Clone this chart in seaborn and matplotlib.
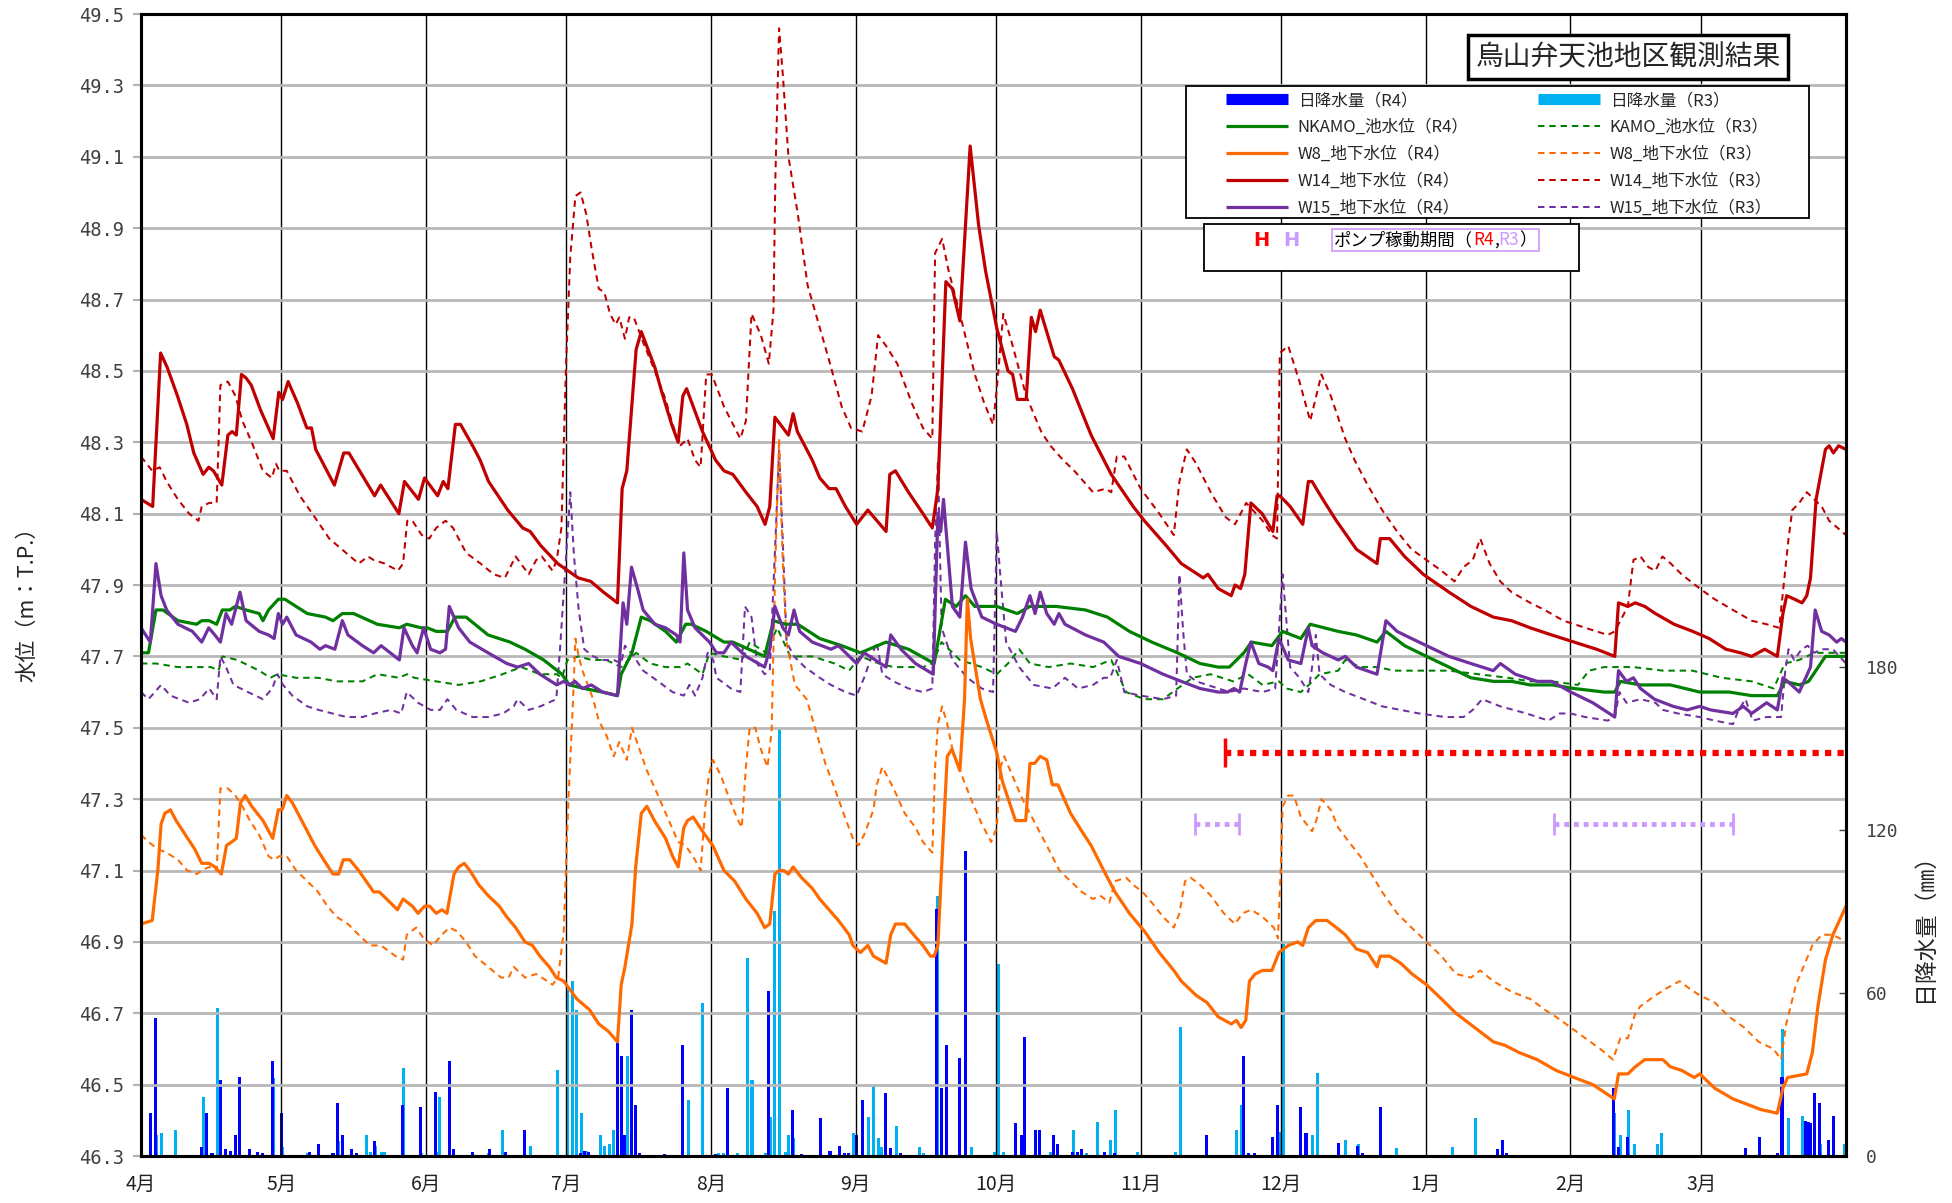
import numpy as np
import pandas as pd
import matplotlib
matplotlib.use("Agg")
import matplotlib.pyplot as plt
import seaborn as sns
from matplotlib.lines import Line2D
from matplotlib.patches import Rectangle
from matplotlib.offsetbox import TextArea, HPacker, AnchoredOffsetbox

# ---------------- data (day index from 1 April, value) ----------------
month_days = [0, 30, 61, 91, 122, 153, 183, 214, 244, 275, 306, 334]
month_labels = ["4月", "5月", "6月", "7月", "8月", "9月", "10月", "11月", "12月", "1月", "2月", "3月"]
left_ticks = [46.3, 46.5, 46.7, 46.9, 47.1, 47.3, 47.5, 47.7, 47.9, 48.1, 48.3, 48.5, 48.7, 48.9, 49.1, 49.3, 49.5]
right_ticks = [0, 60, 120, 180]

w14_r4 = [(0,48.14),(2.5,48.12),(4.2,48.55),(5.6,48.51),(7.8,48.43),(9.8,48.35),(11.3,48.27),(13.3,48.21),(14.5,48.23),(15.5,48.22),(17.3,48.18),(18.6,48.32),(19.5,48.33),(20.4,48.32),(21.5,48.49),(22.5,48.48),(23.6,48.46),(25.6,48.39),(28.3,48.31),(29.5,48.44),(30.3,48.42),(31.5,48.47),(33.5,48.41),(35.5,48.34),(36.5,48.34),(37.4,48.28),(39,48.24),(41.4,48.18),(43.4,48.27),(44.5,48.27),(47.7,48.20),(50,48.15),(51.3,48.18),(55.2,48.10),(56.4,48.19),(59.4,48.14),(60.7,48.20),(63.5,48.15),(64.7,48.19),(65.7,48.17),(67.3,48.35),(68.4,48.35),(71,48.29),(72.6,48.25),(74.4,48.19),(78.5,48.11),(81.7,48.06),(83.3,48.05),(85.6,48.01),(89.2,47.96),(93.6,47.92),(96.3,47.91),(99,47.88),(102,47.85),(103,48.17),(104,48.22),(106,48.56),(107.1,48.61),(110,48.51),(111.5,48.44),(113.6,48.35),(115,48.30),(116,48.43),(116.8,48.45),(120.2,48.33),(123,48.25),(124.8,48.22),(126.7,48.21),(129.5,48.16),(131.9,48.12),(133.6,48.07),(134.6,48.12),(135.7,48.37),(138.6,48.32),(139.6,48.38),(140.5,48.33),(143.7,48.25),(145.3,48.20),(147.3,48.17),(148.8,48.17),(150.8,48.12),(153.2,48.07),(155.6,48.11),(159.5,48.05),(160.3,48.21),(161.5,48.22),(164.3,48.16),(167.4,48.10),(169.4,48.06),(170.6,48.17),(172.3,48.75),(173.7,48.73),(175.3,48.64),(177.5,49.13),(179.3,48.91),(180.8,48.78),(183.2,48.62),(185.6,48.50),(186.6,48.49),(187.6,48.42),(189.5,48.42),(190.6,48.65),(191.5,48.61),(192.5,48.67),(195.5,48.54),(196.5,48.53),(199.4,48.45),(203.4,48.32),(207.7,48.21),(212.4,48.12),(214.8,48.08),(219.5,48.01),(222.7,47.96),(227.4,47.92),(228.4,47.93),(230.6,47.89),(233.4,47.87),(234.2,47.90),(235.4,47.89),(236.3,47.93),(237.6,48.13),(240,48.10),(242.3,48.05),(243.2,48.15),(243.8,48.15),(246,48.12),(248.7,48.07),(249.9,48.19),(250.7,48.19),(253,48.14),(255.9,48.08),(260.2,48.00),(264.6,47.96),(265.3,48.03),(267.3,48.03),(270.5,47.98),(274.5,47.93),(280,47.88),(284.7,47.84),(289.5,47.81),(293.4,47.80),(297.4,47.78),(302,47.76),(306.8,47.74),(311.6,47.72),(315.5,47.70),(316.3,47.85),(318.3,47.84),(319.9,47.85),(321.9,47.84),(324.2,47.82),(328.2,47.79),(332.2,47.77),(335.7,47.75),(339.3,47.72),(342.4,47.71),(344.8,47.70),(347.6,47.72),(350.3,47.70),(351.5,47.82),(352.3,47.87),(354,47.86),(355.6,47.85),(356.6,47.87),(357.4,47.92),(358.6,48.14),(360.6,48.28),(361.4,48.29),(362.3,48.27),(363.4,48.29),(365,48.28)]

w14_r3 = [(0,48.26),(1.2,48.24),(2.4,48.22),(4,48.23),(5.5,48.19),(7.9,48.14),(10.3,48.10),(12.3,48.08),(13,48.12),(14.6,48.13),(16.2,48.13),(17,48.46),(18.6,48.47),(20.2,48.43),(21.7,48.36),(23.7,48.30),(26.1,48.22),(28,48.20),(28.9,48.24),(29.6,48.22),(31.2,48.22),(34,48.15),(37.2,48.09),(40.3,48.03),(43.9,47.99),(46.6,47.96),(48.6,47.98),(49.8,47.97),(52.2,47.96),(55,47.94),(56.1,47.96),(57,48.08),(58.1,48.08),(60.1,48.04),(61.7,48.03),(63.2,48.06),(65.2,48.08),(66.8,48.06),(69.6,47.99),(72.7,47.96),(75.5,47.93),(77.9,47.92),(80.2,47.98),(83,47.93),(84.6,47.97),(85.8,47.98),(88.1,47.94),(89,47.97),(90,48.06),(91,48.52),(91.9,48.82),(93,48.99),(94.1,49.0),(95.3,48.94),(96.5,48.84),(98,48.73),(99.2,48.72),(100.4,48.66),(101.6,48.63),(102.4,48.65),(103.6,48.59),(104.5,48.65),(105.5,48.65),(107.5,48.58),(110,48.50),(112.3,48.42),(113.8,48.35),(115.4,48.29),(117,48.31),(118.6,48.25),(119.8,48.23),(121,48.49),(122.2,48.49),(124.8,48.40),(128.3,48.31),(129.5,48.36),(130.7,48.66),(132.7,48.60),(134.4,48.52),(135.4,48.67),(135.8,49.04),(136.6,49.46),(137.4,49.33),(138.6,49.10),(140.6,48.94),(142.7,48.74),(147.3,48.53),(150,48.40),(152,48.34),(154.4,48.33),(156.4,48.43),(157.8,48.60),(159.5,48.57),(161.9,48.52),(165,48.41),(167.4,48.34),(169.4,48.31),(170,48.83),(171.5,48.87),(172.9,48.78),(175.3,48.66),(178.5,48.49),(180.5,48.41),(182.4,48.35),(183.2,48.45),(184.6,48.66),(186.4,48.58),(189.5,48.43),(192.7,48.33),(194.7,48.29),(197.4,48.25),(199.8,48.22),(203.8,48.16),(206.5,48.17),(207.7,48.16),(208.9,48.26),(210.5,48.26),(214,48.17),(218,48.10),(221.1,48.04),(222.3,48.19),(223.9,48.28),(225.9,48.24),(229,48.16),(232.2,48.09),(234.2,48.07),(236.6,48.13),(240.1,48.08),(242.1,48.04),(243.2,48.03),(243.8,48.55),(245.6,48.57),(248,48.47),(250.3,48.36),(252.7,48.49),(254.7,48.43),(257.8,48.31),(259.8,48.25),(262.6,48.18),(265.7,48.11),(268.9,48.05),(272,48.00),(275.2,47.97),(278.4,47.94),(281.2,47.91),(283.1,47.95),(285.1,47.97),(286.7,48.03),(288.7,47.96),(291,47.91),(293.4,47.88),(297.4,47.85),(300.5,47.83),(304.5,47.80),(309.2,47.78),(314,47.76),(315.5,47.77),(318.3,47.84),(319.5,47.97),(321,47.98),(322.7,47.95),(324.2,47.94),(325.7,47.98),(327.5,47.96),(329.8,47.93),(333.7,47.89),(336.9,47.86),(340.8,47.83),(344.8,47.80),(348,47.79),(350.7,47.78),(351.5,47.88),(352.7,48.03),(353.5,48.11),(355,48.13),(356.6,48.16),(358.2,48.14),(359.8,48.12),(361.4,48.08),(365,48.04)]

nkamo_r4 = [(0,47.71),(1.6,47.71),(3.2,47.83),(4.7,47.83),(7.9,47.80),(11.9,47.79),(13,47.80),(14.6,47.80),(16.2,47.79),(17.4,47.83),(19,47.83),(20.2,47.84),(22.5,47.83),(25.3,47.82),(26.1,47.80),(27.3,47.83),(29.4,47.86),(30.8,47.86),(33.2,47.84),(35.6,47.82),(39.5,47.81),(41.1,47.80),(43.1,47.82),(45.5,47.82),(50.6,47.79),(55.3,47.78),(56.9,47.79),(60,47.78),(61.3,47.78),(63.2,47.77),(65.6,47.77),(67.2,47.81),(69.6,47.81),(74.3,47.76),(79,47.74),(82.2,47.72),(86.2,47.69),(90.1,47.65),(91.7,47.62),(94.9,47.61),(98.8,47.60),(102,47.59),(102.8,47.65),(105.1,47.71),(107.1,47.81),(109,47.80),(112.3,47.77),(114.6,47.74),(116.6,47.79),(117.8,47.79),(121,47.77),(124.8,47.74),(126.7,47.74),(133.5,47.70),(135.4,47.80),(138,47.79),(140.6,47.79),(145.3,47.75),(150,47.73),(154,47.71),(159.5,47.74),(164.3,47.72),(169.8,47.68),(172.2,47.86),(174.5,47.84),(176.5,47.87),(178.5,47.84),(183.2,47.84),(187.6,47.82),(190.3,47.84),(195.9,47.84),(202.2,47.83),(206.9,47.81),(211.6,47.77),(216.4,47.74),(221.9,47.71),(226.7,47.68),(230.6,47.67),(233,47.67),(236.1,47.71),(237.7,47.74),(242.1,47.73),(244.4,47.77),(248.3,47.75),(250.3,47.79),(256.3,47.77),(260.2,47.76),(264.6,47.74),(266.5,47.77),(270.5,47.73),(275.2,47.70),(280,47.67),(284.7,47.64),(289.5,47.63),(293.4,47.63),(297.4,47.62),(302.1,47.62),(306.8,47.61),(313.2,47.60),(315.5,47.60),(316.7,47.63),(321,47.62),(327.4,47.62),(333.7,47.60),(340,47.60),(344.8,47.59),(350.3,47.59),(351.9,47.63),(355,47.62),(357,47.63),(360.6,47.70),(363,47.70),(365,47.70)]

kamo_r3 = [(0,47.68),(3.2,47.68),(7.9,47.67),(11.9,47.67),(15,47.67),(16.6,47.66),(17.4,47.70),(20.6,47.69),(25.3,47.66),(27.7,47.64),(29.2,47.65),(33.2,47.64),(37.9,47.64),(41.9,47.63),(47.4,47.63),(50.6,47.65),(55.3,47.64),(56.9,47.65),(58.5,47.64),(63.2,47.63),(68,47.62),(72.7,47.63),(77.4,47.65),(81.4,47.67),(85.4,47.65),(89,47.65),(90.1,47.64),(91.3,47.69),(93.7,47.70),(96.4,47.69),(99.6,47.69),(102.8,47.67),(106,47.71),(109,47.68),(112.3,47.67),(115.4,47.67),(117,47.68),(120.2,47.65),(121.7,47.71),(124.8,47.70),(128.7,47.69),(130.3,47.74),(133.8,47.71),(136.2,47.78),(139,47.70),(143.7,47.70),(148.5,47.68),(151.6,47.66),(154,47.70),(158,47.68),(161.1,47.67),(167.4,47.67),(169.4,47.68),(171.4,47.74),(175.3,47.69),(180,47.67),(183.2,47.65),(185.6,47.68),(188,47.72),(190.3,47.68),(194.3,47.67),(199,47.68),(203.8,47.67),(207.7,47.69),(210.9,47.60),(214.8,47.58),(218.8,47.58),(221.9,47.61),(225.1,47.64),(229,47.65),(233.8,47.63),(237,47.65),(240.1,47.62),(243.6,47.63),(245.2,47.61),(248.3,47.60),(250,47.62),(252.3,47.65),(256.3,47.66),(257.8,47.69),(261,47.67),(264.9,47.67),(268.1,47.66),(273.6,47.66),(280,47.66),(286.3,47.65),(292.6,47.64),(297.4,47.63),(302,47.63),(307.6,47.62),(310,47.66),(313.2,47.67),(319.5,47.67),(325.8,47.66),(332.1,47.66),(338.4,47.64),(344.8,47.63),(349.5,47.61),(351.9,47.68),(355,47.69),(358.2,47.71),(360.6,47.71),(365,47.71)]

w15_r4 = [(0,47.78),(2,47.74),(3.2,47.96),(4.3,47.87),(5.5,47.83),(7.9,47.79),(11,47.77),(13,47.74),(14.5,47.78),(15.8,47.76),(17,47.74),(18.2,47.82),(19.4,47.79),(21.2,47.88),(22.5,47.80),(25.3,47.77),(27.3,47.76),(28.5,47.75),(29.4,47.82),(30.3,47.79),(31.2,47.81),(33.2,47.76),(36.4,47.74),(38.3,47.72),(39.5,47.73),(41.5,47.72),(43.1,47.80),(44.3,47.76),(47.4,47.73),(49.8,47.71),(51.4,47.73),(55.3,47.69),(56.3,47.78),(58.1,47.73),(59.1,47.71),(60.5,47.78),(62,47.72),(64,47.71),(65.2,47.72),(66,47.84),(68,47.78),(70.4,47.74),(74.3,47.71),(78.3,47.68),(80.6,47.67),(83,47.68),(85.4,47.65),(89,47.62),(90.5,47.63),(91.7,47.62),(92.9,47.63),(94.5,47.61),(96.4,47.62),(98.8,47.60),(102,47.59),(103.2,47.85),(104,47.79),(105,47.95),(106.3,47.89),(107.5,47.83),(110,47.79),(112.3,47.78),(114.6,47.76),(115.4,47.74),(116.2,47.99),(117,47.83),(118.6,47.78),(121.7,47.74),(123.2,47.71),(124.8,47.71),(126.3,47.74),(129.5,47.70),(133.5,47.67),(134.6,47.72),(135.7,47.84),(137.4,47.78),(138.6,47.76),(139.8,47.83),(141,47.77),(143.7,47.74),(147.7,47.72),(149.3,47.73),(153.2,47.68),(154.8,47.71),(157.2,47.69),(159.5,47.67),(160.5,47.76),(162.7,47.72),(165.8,47.68),(169.6,47.65),(170.6,48.10),(171.2,48.05),(171.8,48.14),(173.7,47.84),(175.3,47.81),(176.5,48.02),(177.7,47.89),(180,47.81),(183.2,47.79),(187.2,47.77),(188.7,47.81),(190.3,47.87),(191.4,47.82),(192.5,47.88),(193.9,47.82),(195.5,47.79),(196.5,47.82),(197.8,47.79),(202.2,47.76),(206.1,47.74),(209.3,47.70),(214,47.68),(218.8,47.65),(222.7,47.63),(226.7,47.61),(230.6,47.60),(232.6,47.60),(234,47.61),(235.2,47.60),(236.5,47.68),(237.6,47.74),(239.3,47.68),(241.3,47.67),(242.3,47.66),(243.6,47.75),(245.6,47.69),(248.3,47.68),(249.9,47.78),(250.7,47.73),(253,47.71),(256.3,47.69),(257.8,47.70),(260.2,47.67),(264.6,47.65),(266.5,47.80),(268.9,47.77),(272,47.75),(275.2,47.73),(280,47.70),(284.7,47.68),(289.5,47.66),(291,47.68),(294.2,47.65),(298.9,47.63),(302,47.63),(306.1,47.60),(310.8,47.57),(315.5,47.53),(316.3,47.66),(318,47.63),(319.5,47.64),(321,47.61),(324,47.58),(328,47.56),(331,47.55),(333.7,47.56),(336,47.55),(340.8,47.54),(343,47.56),(344.8,47.54),(348,47.57),(350.3,47.55),(351.5,47.64),(352.5,47.63),(355,47.60),(357.4,47.67),(358.4,47.83),(359.8,47.77),(361.4,47.76),(363,47.74),(364,47.75),(365,47.74)]

w15_r3 = [(0,47.60),(1.6,47.58),(4.3,47.62),(6.3,47.59),(10.3,47.57),(12.6,47.58),(14.6,47.61),(16.2,47.58),(17,47.70),(18.2,47.67),(19.8,47.62),(22.9,47.60),(26.1,47.58),(28.1,47.61),(29.2,47.65),(30.4,47.62),(32.4,47.59),(35.6,47.56),(38,47.55),(41,47.54),(44,47.53),(47.4,47.53),(50,47.54),(53.5,47.55),(55.7,47.54),(56.9,47.60),(59.3,47.57),(62,47.55),(64,47.55),(65.6,47.58),(67.5,47.55),(71,47.53),(74.3,47.53),(77.5,47.54),(79.8,47.56),(80.6,47.58),(83,47.55),(85.5,47.56),(88.9,47.58),(89.7,47.72),(90.9,47.96),(91.9,48.16),(92.7,47.98),(93.7,47.83),(94.9,47.72),(96.8,47.70),(98.8,47.69),(101.2,47.69),(102.8,47.68),(103.6,47.73),(105.5,47.70),(107.5,47.66),(110.7,47.63),(113.8,47.60),(116.2,47.59),(117.4,47.62),(118.6,47.59),(120.2,47.64),(121.3,47.71),(122.5,47.69),(123.2,47.64),(126.3,47.61),(128.3,47.60),(129.3,47.84),(130.7,47.81),(131.9,47.68),(133.5,47.65),(134.6,47.66),(135.8,48.02),(136.6,48.28),(137.4,48.02),(138.2,47.74),(139.8,47.70),(142.1,47.67),(145.3,47.64),(147.7,47.62),(150.8,47.60),(153.2,47.59),(154.8,47.64),(157.5,47.74),(158.7,47.65),(161.1,47.63),(164.3,47.61),(167.4,47.60),(169.4,47.61),(170,48.02),(170.6,48.25),(171.4,47.78),(173.7,47.69),(176.9,47.64),(180,47.61),(182.4,47.60),(183.2,48.05),(184,47.92),(185.2,47.74),(188,47.67),(191.1,47.62),(195.1,47.61),(197.8,47.64),(200.6,47.61),(203.8,47.62),(206.1,47.64),(207.5,47.64),(208.9,47.69),(210.5,47.60),(214,47.59),(218.8,47.58),(221.6,47.59),(222.3,47.93),(223.1,47.77),(223.9,47.65),(225.9,47.63),(230.6,47.61),(233,47.60),(236.1,47.61),(240.1,47.60),(242.8,47.61),(244.4,47.93),(245.2,47.80),(246,47.67),(248,47.64),(249.9,47.60),(250.7,47.67),(251.5,47.76),(252.3,47.65),(254.7,47.62),(257.8,47.60),(261.8,47.58),(265.7,47.56),(269.7,47.55),(273.6,47.54),(279.2,47.53),(283.1,47.53),(285.1,47.55),(287.1,47.58),(291,47.56),(296.6,47.54),(301.3,47.52),(303.7,47.54),(306,47.54),(309.2,47.53),(314,47.52),(315.5,47.53),(316.5,47.60),(318,47.57),(321,47.58),(324.2,47.57),(325.8,47.55),(329,47.54),(333.7,47.53),(336.9,47.52),(340.8,47.51),(342,47.55),(343.5,47.58),(345,47.52),(348,47.53),(351.1,47.53),(352,47.66),(352.7,47.72),(353.9,47.69),(355.5,47.72),(356.8,47.73),(358.2,47.71),(359.8,47.72),(362.2,47.72),(365,47.68)]

w8_r4 = [(0,46.95),(2.4,46.96),(3.6,47.10),(4.3,47.23),(5.1,47.26),(6.3,47.27),(7.5,47.24),(9.5,47.20),(11.5,47.16),(13,47.12),(14.6,47.12),(15.8,47.11),(17.2,47.09),(18.3,47.17),(19.4,47.18),(20.4,47.19),(21.3,47.29),(22.3,47.31),(23.7,47.28),(26.1,47.24),(28.2,47.19),(29.4,47.27),(30.2,47.27),(31.2,47.31),(32.4,47.29),(34,47.25),(35.6,47.21),(37.2,47.17),(39.1,47.13),(41.1,47.09),(42.3,47.09),(43.3,47.13),(44.7,47.13),(46.6,47.10),(48.2,47.07),(49.8,47.04),(51,47.04),(52.6,47.02),(54.9,46.99),(56.1,47.02),(58.1,47.00),(59.3,46.98),(60.7,47.00),(61.8,47.00),(63.2,46.98),(64.4,46.99),(65.5,46.98),(67,47.09),(68,47.11),(69.2,47.12),(70.4,47.10),(72.3,47.06),(74.3,47.03),(76.7,47.00),(78.3,46.97),(80.2,46.94),(82.2,46.90),(83.8,46.89),(85.4,46.86),(87.4,46.83),(88.9,46.80),(90.5,46.79),(93.3,46.74),(96,46.71),(98,46.67),(100,46.65),(102,46.62),(102.8,46.78),(103.6,46.83),(105.1,46.95),(105.9,47.11),(107.1,47.26),(108.3,47.28),(109.9,47.24),(112.3,47.19),(113.8,47.14),(115,47.11),(116.2,47.22),(117,47.24),(118.2,47.25),(120.2,47.21),(122.4,47.17),(124.8,47.10),(127.1,47.07),(129.5,47.02),(131.9,46.98),(133.5,46.94),(134.6,46.95),(135.7,47.09),(136.6,47.10),(137.6,47.10),(138.6,47.09),(139.6,47.11),(141.4,47.08),(143.7,47.05),(145.3,47.02),(147.3,46.99),(149.3,46.96),(151.6,46.92),(152.4,46.89),(154,46.87),(155.6,46.89),(156.8,46.86),(159.5,46.84),(160.5,46.92),(161.5,46.95),(163.5,46.95),(165.4,46.92),(167.4,46.89),(169,46.86),(169.8,46.86),(170.6,46.89),(171.4,47.11),(172.6,47.42),(173.6,47.44),(175.3,47.38),(176.3,47.58),(176.9,47.86),(177.6,47.75),(179.7,47.58),(180.8,47.53),(183.2,47.43),(184.4,47.35),(187.2,47.24),(189.4,47.24),(190.3,47.40),(191.3,47.40),(192.5,47.42),(193.9,47.41),(195.1,47.34),(196.3,47.34),(199,47.26),(201.4,47.21),(203.4,47.17),(206.1,47.10),(208.5,47.04),(211.6,46.98),(214.8,46.93),(218,46.87),(221.1,46.82),(222.7,46.79),(225.9,46.75),(228.2,46.73),(230.6,46.69),(233.4,46.67),(234.5,46.68),(235.5,46.66),(236.5,46.68),(237.3,46.79),(238.5,46.81),(240.1,46.82),(242.1,46.82),(243.6,46.87),(245.6,46.89),(247.6,46.90),(248.7,46.89),(249.9,46.94),(251.5,46.96),(253.9,46.96),(255.9,46.94),(257.8,46.92),(260.2,46.88),(262.6,46.87),(264.6,46.83),(265.3,46.86),(267.3,46.86),(269.7,46.84),(272.1,46.81),(275.2,46.78),(278.4,46.74),(281.5,46.70),(285.5,46.66),(289.5,46.62),(292,46.61),(295,46.59),(298.9,46.57),(302.9,46.54),(306.8,46.52),(310.8,46.50),(315.4,46.46),(316.3,46.53),(318.3,46.53),(319.9,46.55),(321.9,46.57),(325.8,46.57),(327.4,46.55),(329.8,46.54),(332.5,46.52),(333.7,46.53),(336.9,46.49),(340.8,46.46),(344.8,46.44),(346.8,46.43),(350.3,46.42),(351.5,46.49),(352.5,46.52),(356.6,46.53),(357.8,46.59),(359,46.72),(360.6,46.85),(362.2,46.92),(365,47.00)]

w8_r3 = [(0,47.20),(1.6,47.18),(3.6,47.16),(5.5,47.15),(7.9,47.13),(9.9,47.10),(11.9,47.09),(13,47.10),(14.6,47.11),(16.2,47.10),(17,47.33),(18.6,47.33),(20.2,47.31),(21.7,47.28),(23.3,47.24),(25.3,47.20),(27.3,47.14),(28.5,47.13),(29.6,47.14),(31.2,47.14),(33.2,47.10),(35.6,47.07),(37.9,47.04),(39.9,47.00),(41.9,46.97),(44.3,46.95),(46.6,46.92),(49,46.89),(51.4,46.89),(54.5,46.86),(56.1,46.85),(56.9,46.92),(58.9,46.94),(60.5,46.91),(62.5,46.89),(64.4,46.92),(66,46.94),(67.6,46.93),(69.6,46.90),(71.5,46.86),(74.3,46.83),(77.1,46.80),(78.7,46.80),(79.8,46.83),(82.2,46.80),(84.6,46.81),(85.8,46.80),(88.1,46.78),(89.3,46.80),(90.5,46.93),(91.5,47.30),(92.5,47.58),(93,47.75),(93.7,47.70),(94.5,47.66),(96.8,47.58),(98,47.52),(99.6,47.48),(101.2,47.42),(102.4,47.46),(104,47.41),(105.1,47.50),(106.7,47.44),(108.3,47.38),(110.7,47.31),(113,47.24),(115,47.18),(116.6,47.17),(118.6,47.13),(119.8,47.10),(120.8,47.28),(121.6,47.37),(122.4,47.41),(124,47.37),(126,47.30),(127.5,47.25),(128.6,47.22),(129.5,47.39),(130.3,47.50),(131.5,47.50),(132.7,47.44),(134.1,47.39),(135,47.49),(135.8,47.96),(136.6,48.31),(137.4,47.96),(138.2,47.74),(140,47.62),(142.5,47.58),(144.5,47.49),(146.5,47.40),(148.5,47.33),(150.4,47.26),(152.4,47.19),(153.6,47.17),(154.8,47.20),(156.8,47.27),(157.5,47.34),(158.7,47.39),(161.1,47.33),(163.5,47.26),(165.8,47.22),(167.4,47.18),(169.4,47.15),(170,47.39),(170.6,47.51),(171.5,47.56),(172.6,47.51),(173.7,47.44),(175.3,47.38),(177.7,47.30),(180,47.23),(182,47.18),(183.2,47.22),(184,47.39),(184.8,47.42),(186.4,47.37),(188.7,47.30),(191.1,47.24),(193.9,47.17),(196.6,47.10),(199,47.07),(201.4,47.04),(203.8,47.02),(205.3,47.03),(207.3,47.01),(208.5,47.07),(210.9,47.08),(212.4,47.06),(214.4,47.04),(216.4,47.01),(218.8,46.97),(221.1,46.94),(222.3,46.98),(223.5,47.07),(224.7,47.08),(226.7,47.06),(229,47.03),(231.8,46.98),(234.2,46.95),(235.8,46.98),(237.7,46.99),(240.1,46.97),(242.5,46.94),(243.4,46.91),(244,47.11),(244.4,47.28),(245.6,47.31),(246.8,47.31),(248.3,47.25),(250.7,47.21),(251.6,47.24),(252.7,47.30),(254.7,47.27),(256.3,47.22),(258.6,47.18),(261,47.14),(263.4,47.09),(265.7,47.04),(268.9,46.98),(272,46.94),(275.2,46.90),(278.4,46.86),(281.5,46.81),(284.7,46.80),(286.7,46.82),(289.5,46.79),(293.4,46.76),(297.4,46.74),(300.5,46.71),(302.9,46.69),(306.1,46.66),(309.2,46.63),(312.4,46.60),(315.1,46.57),(316.7,46.63),(318.3,46.63),(319.9,46.70),(321,46.72),(324.2,46.75),(326.6,46.77),(329.4,46.79),(331.4,46.77),(333.7,46.75),(336.9,46.73),(340,46.69),(343.2,46.66),(346.3,46.62),(349.5,46.60),(351.1,46.57),(352.2,46.67),(354.3,46.78),(356.2,46.84),(357.8,46.89),(359.8,46.92),(362.2,46.92),(365,46.90)]

rain_r4 = [(0.2,14.7),(2.1,15.7),(3.2,50.9),(13,3.4),(14.1,15.7),(15.2,1),(17,28),(18,2.5),(19.1,2),(20.2,7.7),(21,29),(23.2,2.5),(25,1.6),(26.1,1),(28.1,35),(30,15.7),(36,1.6),(38.1,4.4),(41.1,1),(42.1,19.6),(43.1,7.7),(45.1,2.5),(46.1,1),(50,5.6),(55.9,18.8),(59.8,17.9),(63,23.7),(66,35),(67,2.5),(70.9,1.6),(74.7,2.5),(78,1.6),(82,9.6),(94,1.2),(94.9,2),(95.8,1.6),(102,41.5),(102.8,36.8),(103.6,7.7),(105,53.7),(105.9,18.8),(106.7,1),(112,0.8),(116,40.9),(123,0.8),(125.6,24.9),(134.4,60.7),(139.4,17),(141.5,0.8),(145.5,13.9),(147.5,2),(149.5,3.7),(150.5,1),(151.5,1),(153.2,7.7),(154.4,20.6),(159.4,23),(160.5,2.8),(162.5,1),(170.2,90.8),(171.4,24.9),(172.4,40.9),(175.3,36),(176.5,112),(187.3,12),(188.4,7.7),(189.2,43.7),(191.4,9.6),(192.4,9.6),(195.3,7.7),(196.3,4.4),(199.4,1.6),(200.4,1.6),(201.4,2.5),(206.3,1.6),(208.4,1),(228.1,7.7),(236,36.8),(237.1,1),(238.3,1),(242.3,6.9),(243.4,18.8),(248.3,17.9),(249.4,8.6),(256.3,4.7),(260.4,3.7),(261.4,1),(265.4,17.9),(290.4,2.5),(291.4,5.9),(292.4,1),(315.3,24.9),(316.3,3.4),(318.3,6.9),(343.4,2.8),(346.4,6.9),(350.3,1),(351.3,29),(356.3,13),(356.9,12.5),(357.4,12),(358.2,23),(359.4,19.6),(361.2,5.9),(362.3,14.7)]

rain_r3 = [(3.4,7.7),(4.3,8.6),(7.4,9.6),(13.3,21.8),(16.4,54.4),(28.3,28.6),(30.3,3.4),(35.6,1),(42.3,5.6),(48.2,7.7),(49.2,1.6),(50.2,3.7),(51.4,1.6),(52.2,1.6),(56.1,32.5),(60.1,1),(63.4,1.6),(64,21.8),(74.3,1),(77.3,9.6),(83.4,3.7),(89.2,31.7),(91.3,61.1),(92.3,64.5),(93.3,53.7),(94.2,15.7),(95.3,2),(98.3,7.7),(99.2,3.7),(100.2,4.4),(101.2,9.6),(104.2,36.6),(117.2,20.6),(120.2,56.2),(123.6,1),(124.6,1),(127.7,1),(129.8,73),(130.8,28),(133.7,1),(134.7,14.5),(135.7,90),(136.6,157),(138,1.6),(138.7,7.7),(139.6,6.5),(152.6,8.6),(154.5,20.6),(155.7,14.5),(156.8,25.8),(157.8,6.5),(158.6,3.4),(161.7,11),(166.6,3.4),(167.6,1),(170.6,95.7),(177.7,3.4),(182.7,1.6),(183.6,70.6),(184.6,1.6),(194.6,1.6),(199.6,9.6),(202.5,1),(204.7,12.6),(207.5,5.9),(208.6,17),(213.4,1.6),(221.5,1.6),(222.6,47.6),(234.6,9.6),(235.5,18.8),(243.8,9),(244.6,78.9),(250.7,7.7),(251.9,30.7),(257.8,5.9),(260.7,4.4),(268.7,2.8),(280.8,3.4),(285.7,13.9),(315.5,15.7),(316.7,7.7),(318.5,17),(319.7,4.4),(324.6,4.4),(325.6,8.6),(351.5,46.6),(352.7,13.9),(355.6,14.7),(359.6,4.4),(364.6,4.4)]

pump_r4 = [(232, 365)]
pump_r4_level = 47.43
pump_r3 = [(225.7, 235), (302.5, 340.8)]
pump_r3_level = 47.23

# ---------------- colours ----------------
C_BLUE = "#0000FF"
C_LBLUE = "#00B0F0"
C_GREEN = "#008000"
C_ORANGE = "#FF6A00"
C_RED = "#C00000"
C_PURPLE = "#7030A0"
C_PUMP4 = "#FF0000"
C_PUMP3 = "#CC99FF"

sns.set_style("white")
plt.rcParams['font.family'] = ['Noto Sans CJK JP', 'DejaVu Sans']

fig = plt.figure(figsize=(19.52, 12.03), dpi=100)
ax = fig.add_axes([141/1952, 47/1203, 1705/1952, 1142/1203])
ax2 = ax.twinx()
ax.set_zorder(ax2.get_zorder() + 1)
ax.patch.set_visible(False)

# ---------------- rain bars (right axis) ----------------
r3 = pd.DataFrame(rain_r3, columns=["day", "mm"])
r4 = pd.DataFrame(rain_r4, columns=["day", "mm"])
ax2.bar(r3["day"], r3["mm"], width=0.65, color=C_LBLUE, linewidth=0)
ax2.bar(r4["day"], r4["mm"], width=0.65, color=C_BLUE, linewidth=0)
ax2.set_ylim(0, 420)
ax2.set_yticks(right_ticks)
ax2.tick_params(axis="y", direction="in", length=5, width=1, pad=14,
                labelsize=13, labelcolor="#404040", colors="#404040")
for t in ax2.get_yticklabels():
    t.set_family("DejaVu Sans Mono")
ax2.set_ylabel("日降水量（㎜）", fontsize=16.5, rotation=90)
ax2.yaxis.set_label_coords(1.039, 0.205)
ax2.grid(False)

# ---------------- lines ----------------
def draw(pairs, color, lw, dashed):
    df = pd.DataFrame(pairs, columns=["day", "level"])
    sns.lineplot(data=df, x="day", y="level", ax=ax, color=color, linewidth=lw,
                 estimator=None, sort=False, legend=False)
    ln = ax.lines[-1]
    if dashed:
        ln.set_dashes((3.2, 2.4))
    return ln

LW4, LW3 = 2.3, 1.45
draw(kamo_r3, C_GREEN, LW3, True)
draw(w15_r3, C_PURPLE, LW3, True)
draw(w8_r3, C_ORANGE, LW3, True)
draw(w14_r3, C_RED, LW3, True)
draw(nkamo_r4, C_GREEN, LW4, False)
draw(w15_r4, C_PURPLE, LW4, False)
draw(w8_r4, C_ORANGE, LW4, False)
draw(w14_r4, C_RED, LW4, False)

# pump periods
for s, e in pump_r4:
    ax.plot([s, e], [pump_r4_level, pump_r4_level], color=C_PUMP4, lw=4.5,
            linestyle=(0, (1, 1)), dash_capstyle="butt", zorder=5)
    ax.vlines(s, pump_r4_level - 0.04, pump_r4_level + 0.04, color=C_PUMP4, lw=2.5, zorder=5)
for s, e in pump_r3:
    ax.plot([s, e], [pump_r3_level, pump_r3_level], color=C_PUMP3, lw=3.5,
            linestyle=(0, (1, 1)), dash_capstyle="butt", zorder=5)
    ax.vlines([s, e], pump_r3_level - 0.03, pump_r3_level + 0.03, color=C_PUMP3, lw=2, zorder=5)

# ---------------- axes formatting ----------------
ax.set_xlim(0, 365)
ax.set_ylim(46.3, 49.5)
ax.set_yticks(left_ticks)
ax.set_yticklabels([f"{v:.1f}" for v in left_ticks], family="DejaVu Sans Mono")
ax.set_xticks(month_days)
ax.set_xticklabels(month_labels)
ax.tick_params(axis="y", direction="out", length=6, width=1.5, color="#B0B0B0",
               labelsize=13.5, labelcolor="#404040", pad=6)
ax.tick_params(axis="x", length=0, labelsize=14, pad=13, labelcolor="#202020")
ax.yaxis.grid(True, color="#B8B8B8", lw=2)
ax.xaxis.grid(True, color="black", lw=1)
ax.set_axisbelow(True)
ax.set_xlabel("")
ax.set_ylabel("水位（m：T.P.）", fontsize=15.5)
ax.yaxis.set_label_coords(-0.060, 0.488)
for a in (ax, ax2):
    for sp in a.spines.values():
        sp.set_color("black")
        sp.set_linewidth(2.2)
        sp.set_visible(True)

# ---------------- legend (frame + two columns) ----------------
ax.add_artist(Rectangle((1186/1952, 1 - 218/1203), 623/1952, 132/1203,
                        transform=fig.transFigure, fc="white", ec="black", lw=1.3,
                        zorder=29, clip_on=False))

def handle(color, lw, dashed):
    h = Line2D([], [], color=color, lw=lw, solid_capstyle="butt", dash_capstyle="butt")
    if dashed:
        h.set_dashes((3.2, 2.4))
    return h

h_r4 = [handle(C_BLUE, 8, False), handle(C_GREEN, LW4, False), handle(C_ORANGE, LW4, False),
        handle(C_RED, LW4, False), handle(C_PURPLE, LW4, False)]
h_r3 = [handle(C_LBLUE, 8, False), handle(C_GREEN, LW3, True), handle(C_ORANGE, LW3, True),
        handle(C_RED, LW3, True), handle(C_PURPLE, LW3, True)]
lab_r4 = ["日降水量（R4）", "NKAMO_池水位（R4）", "W8_地下水位（R4）", "W14_地下水位（R4）", "W15_地下水位（R4）"]
lab_r3 = ["日降水量（R3）", "KAMO_池水位（R3）", "W8_地下水位（R3）", "W14_地下水位（R3）", "W15_地下水位（R3）"]
common = dict(loc="upper left", bbox_transform=fig.transFigure, frameon=False,
              fontsize=12, handlelength=3.7, handletextpad=0.6, labelspacing=0.6,
              borderpad=0, borderaxespad=0)
leg1 = ax.legend(h_r4, lab_r4, bbox_to_anchor=(1226/1952, 1 - 92/1203), **common)
leg1.set_zorder(30)
ax.add_artist(leg1)
leg2 = ax.legend(h_r3, lab_r3, bbox_to_anchor=(1538/1952, 1 - 92/1203), **common)
leg2.set_zorder(30)

# pump legend box
fig.add_artist(Rectangle((1204/1952, 1 - 271/1203), 375/1952, 47/1203,
                         transform=fig.transFigure, fc="white", ec="black", lw=1.3, zorder=40))
fig.text(1261/1952, 1 - 241/1203, "H", color=C_PUMP4, fontsize=14, weight="bold",
         family="DejaVu Sans", ha="center", va="center", zorder=41)
fig.text(1291/1952, 1 - 241/1203, "H", color=C_PUMP3, fontsize=14, weight="bold",
         family="DejaVu Sans", ha="center", va="center", zorder=41)
parts = [TextArea("ポンプ稼動期間（", textprops=dict(fontsize=12.5, color="black")),
         TextArea("R4", textprops=dict(fontsize=12.5, color=C_PUMP4)),
         TextArea(",", textprops=dict(fontsize=12.5, color="black")),
         TextArea("R3", textprops=dict(fontsize=12.5, color=C_PUMP3)),
         TextArea("）", textprops=dict(fontsize=12.5, color="black"))]
pk = HPacker(children=parts, align="baseline", pad=0, sep=0)
abox = AnchoredOffsetbox(loc="upper left", child=pk, pad=0.15, borderpad=0, frameon=True,
                         bbox_to_anchor=(1332/1952, 1 - 229/1203), bbox_transform=fig.transFigure)
abox.patch.set_edgecolor(C_PUMP3)
abox.patch.set_linewidth(1.2)
abox.set_zorder(42)
fig.add_artist(abox)

# title box
fig.text(1628/1952, 1 - 57/1203, "烏山弁天池地区観測結果", fontsize=20, ha="center", va="center",
         zorder=50, bbox=dict(boxstyle="square,pad=0.25", fc="white", ec="black", lw=2.5))

fig.savefig("out.png", dpi=100)
